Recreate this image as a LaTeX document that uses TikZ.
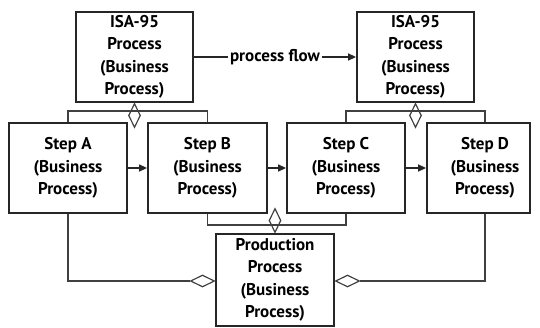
\documentclass[tikz,border=0pt]{standalone}
\usepackage{fontspec}
\setmainfont{PT Sans}
\usetikzlibrary{shapes.geometric,arrows.meta}
\begin{document}
\begin{tikzpicture}[x=1pt,y=-1pt,
  box/.style={draw=black!85,line width=1.8pt,minimum height=90pt,inner sep=0pt},
  txt/.style={align=center,font=\fontsize{17}{22.5}\selectfont\bfseries},
  flow/.style={draw=black!85,line width=1.3pt,-{Triangle[length=8pt,width=7pt]}},
  agg/.style={draw=black!75,line width=1.3pt},
  dia/.style={diamond,draw=black!75,line width=1.2pt,inner sep=0pt,aspect=0.5},
  vdia/.style={dia,minimum width=12pt,minimum height=24pt},
  hdia/.style={dia,minimum width=24pt,minimum height=12pt}]
\useasboundingbox (0,0) rectangle (540,327);
\node[box,txt,minimum width=117pt] (isa1) at (134.5,57) {ISA-95\\Process\\(Business\\Process)};
\node[box,txt,minimum width=117pt] (isa2) at (415.5,57) {ISA-95\\Process\\(Business\\Process)};
\node[box,txt,minimum width=118pt] (A) at (68,168) {Step A\\(Business\\Process)};
\node[box,txt,minimum width=119pt] (B) at (207.5,168) {Step B\\(Business\\Process)};
\node[box,txt,minimum width=118pt] (C) at (346,168) {Step C\\(Business\\Process)};
\node[box,minimum width=103pt] (D) at (478.5,168) {};
\node[txt] (Dt) at (485,168) {Step D\\(Business\\Process)};
\node[box,txt,minimum width=118pt,minimum height=92pt] (P) at (275,280) {Production\\Process\\(Business\\Process)};
% process flow
\draw[flow] (isa1) -- node[txt,fill=white,inner sep=2pt] (pf) {process flow} (isa2);
\draw[flow] (A) -- (B);
\draw[flow] (B) -- (C);
\draw[flow] (C) -- (Dt -| D.west);
% aggregation to ISA-95 processes
\node[vdia,anchor=north] (d1) at (isa1.south) {};
\node[vdia,anchor=north] (d2) at (isa2.south) {};
\draw[agg] (A.north) -- ++(0,-11) -| (B.north);
\draw[agg] (C.north) -- ++(0,-11) -| (Dt |- D.north);
% aggregation to production process
\node[vdia,anchor=south] (d3) at (P.north) {};
\node[hdia,anchor=east] (d4) at ([yshift=-1pt]P.west) {};
\node[hdia,anchor=west] (d5) at ([yshift=-1pt]P.east) {};
\draw[agg] (B.south) -- ++(0,11) -| (C.south);
\draw[agg] (A.south) |- (d4.west);
\draw[agg] (Dt |- D.south) |- (d5.east);
\end{tikzpicture}
\end{document}
